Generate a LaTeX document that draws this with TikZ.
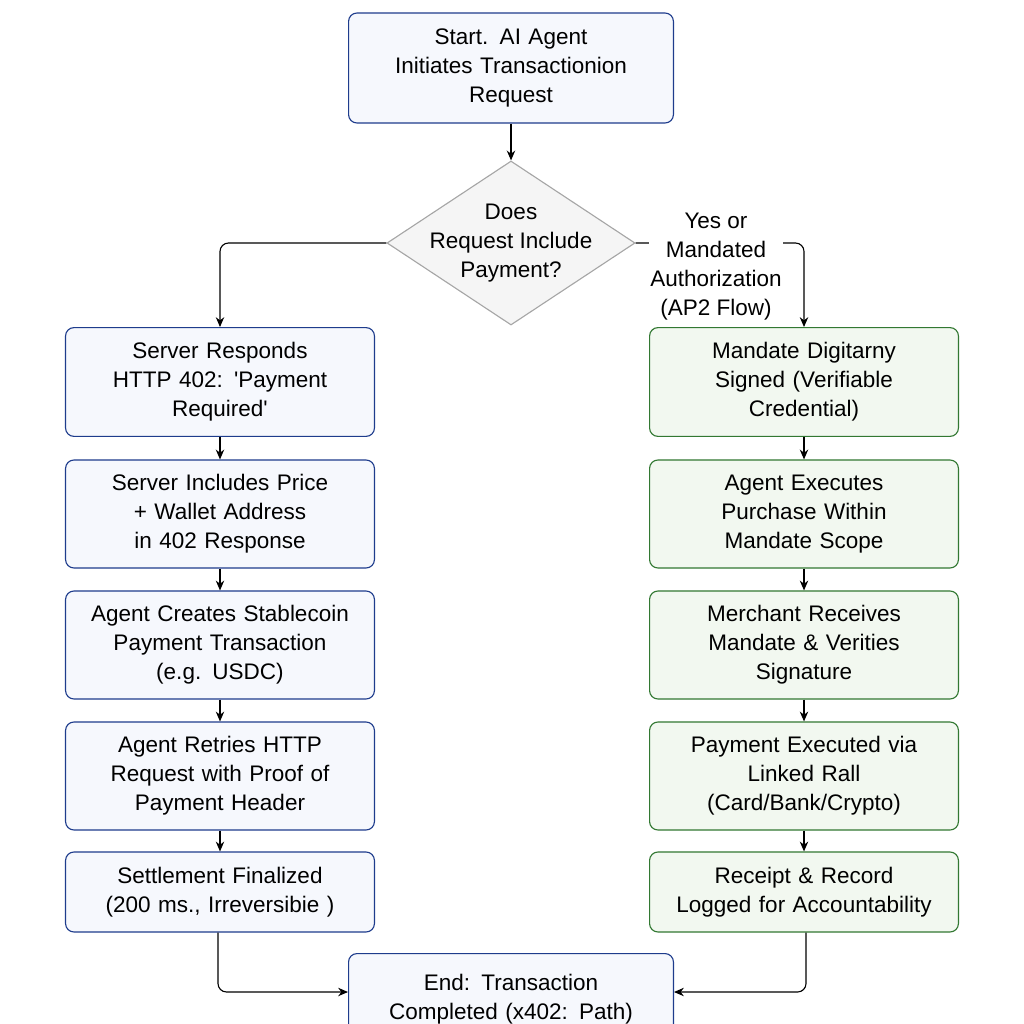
\documentclass[tikz,border=0pt]{standalone}
\usepackage{fontspec}
\setmainfont{Liberation Sans}
\usetikzlibrary{shapes.geometric,arrows.meta}
\definecolor{bluedge}{RGB}{30,60,140}
\definecolor{bluefill}{RGB}{246,248,253}
\definecolor{greenedge}{RGB}{50,120,50}
\definecolor{greenfill}{RGB}{242,248,240}
\tikzset{
  box/.style={draw=bluedge, fill=bluefill, rounded corners=6pt, thick, align=center,
    minimum width=7.72cm, text width=7.2cm, font=\fontsize{16}{20.6}\selectfont},
  gbox/.style={box, draw=greenedge, fill=greenfill},
  flow/.style={-{Stealth[length=7pt,width=6pt]}, thick},
}
\begin{document}
\begin{tikzpicture}[x=0.025cm, y=-0.025cm]
    \useasboundingbox (0,0) rectangle (1024,1024);
    % top and decision
    \node[box, minimum width=8.12cm, text width=6.5cm, minimum height=2.75cm] (start) at (511,68) {Start. AI Agent\\Initiates Transactionion\\Request};
    \node[diamond, draw=gray!70, fill=gray!8, thick, aspect=1.5, minimum width=6.2cm, minimum height=4.1cm,
      inner sep=-12pt, align=center, font=\fontsize{16}{20.6}\selectfont] (decide) at (511,243) {Does\\Request Include\\Payment?};
    \draw[flow] (start) -- (decide);

    % left path
    \node[box, minimum height=2.72cm] (l1) at (220,382) {Server Responds\\HTTP 402: \textquotesingle Payment\\Required\textquotesingle};
    \node[box, minimum height=2.7cm] (l2) at (220,514) {Server Includes Price\\+ Wallet Address\\in 402 Response};
    \node[box, minimum height=2.7cm] (l3) at (220,645) {Agent Creates Stablecoin\\Payment Transaction\\(e.g. USDC)};
    \node[box, minimum height=2.7cm] (l4) at (220,776) {Agent Retries HTTP\\Request with Proof of\\Payment Header};
    \node[box, minimum height=2cm] (l5) at (220,892) {Settlement Finalized\\(200 ms., Irreversibie )};

    % right path
    \node[gbox, minimum height=2.72cm] (r1) at (804,382) {Mandate Digitarny\\Signed (Verifiable\\Credential)};
    \node[gbox, minimum height=2.7cm] (r2) at (804,514) {Agent Executes\\Purchase Within\\Mandate Scope};
    \node[gbox, minimum height=2.7cm] (r3) at (804,645) {Merchant Receives\\Mandate \& Verities\\Signature};
    \node[gbox, minimum height=2.7cm] (r4) at (804,776) {Payment Executed via\\Linked Rall\\(Card/Bank/Crypto)};
    \node[gbox, minimum height=2cm] (r5) at (804,892) {Receipt \& Record\\Logged for Accountability};

    % end
    \node[box, minimum width=8.12cm, text width=7.5cm, minimum height=2.3cm, anchor=north] (finish) at (511,953) {End: Transaction\\Completed (x402: Path)};

    % connectors
    \draw[flow, rounded corners=6pt] (decide.west) -| (l1.north);
    \draw[flow, rounded corners=6pt] (decide.east) -| (r1.north);
    \node[fill=white, align=center, inner sep=1pt, font=\fontsize{16}{20.6}\selectfont] (yes) at (716,267) {Yes or\\Mandated\\Authorization\\(AP2 Flow)};
    \foreach \a/\b in {l1/l2, l2/l3, l3/l4, l4/l5, r1/r2, r2/r3, r3/r4, r4/r5}
        \draw[flow] (\a) -- (\b);
    \coordinate (lbend) at (218,992);
    \coordinate (rbend) at (806,992);
    \draw[flow, rounded corners=6pt] (l5.south -| lbend) -- (lbend) -- (lbend -| finish.west);
    \draw[flow, rounded corners=6pt] (r5.south -| rbend) -- (rbend) -- (rbend -| finish.east);
\end{tikzpicture}
\end{document}
